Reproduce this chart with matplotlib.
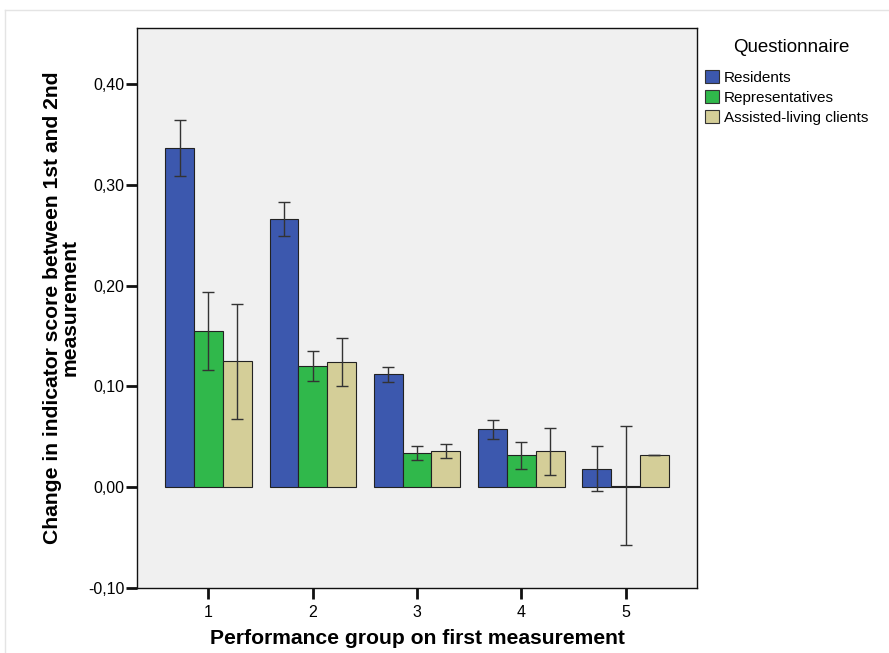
import numpy as np
import matplotlib
matplotlib.use("Agg")
import matplotlib.pyplot as plt
from matplotlib.patches import Patch
from matplotlib.lines import Line2D

plt.rcParams["font.family"] = ["Liberation Sans", "DejaVu Sans"]

groups = [1, 2, 3, 4, 5]
series = ["Residents", "Representatives", "Assisted-living clients"]
colors = ["#3C58AE", "#30B84B", "#D4CE98"]

# means and CI bounds per series
residents = [0.337, 0.266, 0.112, 0.058, 0.018]
residents_lo = [0.309, 0.249, 0.104, 0.048, -0.004]
residents_hi = [0.364, 0.283, 0.119, 0.067, 0.041]

representatives = [0.155, 0.120, 0.034, 0.032, 0.001]
representatives_lo = [0.116, 0.105, 0.027, 0.018, -0.057]
representatives_hi = [0.194, 0.135, 0.041, 0.045, 0.061]

assisted = [0.125, 0.124, 0.036, 0.036, 0.032]
assisted_lo = [0.068, 0.100, 0.029, 0.012, 0.032]
assisted_hi = [0.182, 0.148, 0.043, 0.059, 0.032]

yticks = [-0.10, 0.00, 0.10, 0.20, 0.30, 0.40]

fig = plt.figure(figsize=(8.89, 6.53), dpi=100)

# faint outer frame of the original screenshot
fig.add_artist(Line2D([5/889, 1.0], [1 - 10/653, 1 - 10/653], transform=fig.transFigure,
                      color="#E4E4E4", linewidth=1.0))
fig.add_artist(Line2D([5/889, 5/889], [0.0, 1 - 10/653], transform=fig.transFigure,
                      color="#E4E4E4", linewidth=1.0))

ax = fig.add_axes([0.1541, 0.0996, 0.63, 0.8575])
ax.set_facecolor("#F0F0F0")

x = np.array(groups, dtype=float)
width = 0.276
data = [(residents, residents_lo, residents_hi),
        (representatives, representatives_lo, representatives_hi),
        (assisted, assisted_lo, assisted_hi)]

for i, (vals, lo, hi) in enumerate(data):
    vals = np.array(vals)
    pos = x + (i - 1) * width
    ax.bar(pos, vals, width, color=colors[i], edgecolor="#222222", linewidth=0.8, zorder=2)
    err = np.vstack([vals - np.array(lo), np.array(hi) - vals])
    ax.errorbar(pos, vals, yerr=err, fmt="none", ecolor="#333333", elinewidth=1.0,
                capsize=4, capthick=1.0, zorder=3)

ax.set_xlim(0.315, 5.685)
ax.set_ylim(-0.10, 0.4557)
ax.set_xticks(groups)
ax.set_xticklabels([str(g) for g in groups], fontsize=11.5)
ax.set_yticks(yticks)
ax.set_yticklabels([f"{v:.2f}".replace(".", ",") for v in yticks], fontsize=11.5)
ax.tick_params(axis="both", direction="out", length=8, width=2, color="#111111")
ax.tick_params(axis="x", pad=4)
ax.tick_params(axis="y", pad=1)
for s in ax.spines.values():
    s.set_linewidth(1.0)
    s.set_color("#111111")

ax.set_ylabel("Change in indicator score between 1st and 2nd\nmeasurement",
              fontsize=15.2, fontweight="bold", linespacing=0.95, labelpad=6)
ax.set_xlabel("Performance group on first measurement", fontsize=15.2, fontweight="bold",
              labelpad=7)

fig.text(791/889, 1 - 48/653, "Questionnaire", fontsize=13.5, ha="center", va="center")
handles = [Patch(facecolor=c, edgecolor="#333333", linewidth=0.8, label=s)
           for c, s in zip(colors, series)]
fig.legend(handles=handles, loc="upper left",
           bbox_to_anchor=(0.786, 1 - 64/653), frameon=False, fontsize=11,
           handlelength=0.95, handleheight=0.95, borderaxespad=0.0,
           handletextpad=0.3, labelspacing=0.33)

fig.savefig("out.png", dpi=100)
